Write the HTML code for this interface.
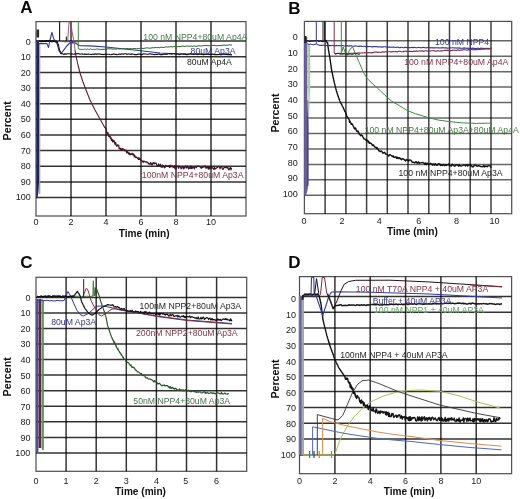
<!DOCTYPE html>
<html><head><meta charset="utf-8"><style>
html,body{margin:0;padding:0;background:#fff;}
body{width:520px;height:499px;overflow:hidden;font-family:"Liberation Sans",sans-serif;}
svg{display:block;will-change:transform;filter:blur(0.3px);}
</style></head><body>
<svg width="520" height="499" viewBox="0 0 520 499">
<rect width="520" height="499" fill="#fff"/>
<text x="20.2" y="13.3" font-size="17" fill="#0a0a0a" text-anchor="start" font-weight="bold" font-family="Liberation Sans, sans-serif" >A</text>
<line x1="71" y1="21.6" x2="71" y2="216" stroke="#000" stroke-width="1.5" stroke-opacity="0.8"/>
<line x1="106" y1="21.6" x2="106" y2="216" stroke="#000" stroke-width="1.5" stroke-opacity="0.8"/>
<line x1="141" y1="21.6" x2="141" y2="216" stroke="#000" stroke-width="1.5" stroke-opacity="0.8"/>
<line x1="176" y1="21.6" x2="176" y2="216" stroke="#000" stroke-width="1.5" stroke-opacity="0.8"/>
<line x1="211" y1="21.6" x2="211" y2="216" stroke="#000" stroke-width="1.5" stroke-opacity="0.8"/>
<line x1="36" y1="41.1" x2="246" y2="41.1" stroke="#000" stroke-width="1.5" stroke-opacity="0.8"/>
<line x1="36" y1="56.7" x2="246" y2="56.7" stroke="#000" stroke-width="1.5" stroke-opacity="0.8"/>
<line x1="36" y1="72.4" x2="246" y2="72.4" stroke="#000" stroke-width="1.5" stroke-opacity="0.8"/>
<line x1="36" y1="88" x2="246" y2="88" stroke="#000" stroke-width="1.5" stroke-opacity="0.8"/>
<line x1="36" y1="103.7" x2="246" y2="103.7" stroke="#000" stroke-width="1.5" stroke-opacity="0.8"/>
<line x1="36" y1="119.3" x2="246" y2="119.3" stroke="#000" stroke-width="1.5" stroke-opacity="0.8"/>
<line x1="36" y1="134.9" x2="246" y2="134.9" stroke="#000" stroke-width="1.5" stroke-opacity="0.8"/>
<line x1="36" y1="150.6" x2="246" y2="150.6" stroke="#000" stroke-width="1.5" stroke-opacity="0.8"/>
<line x1="36" y1="166.2" x2="246" y2="166.2" stroke="#000" stroke-width="1.5" stroke-opacity="0.8"/>
<line x1="36" y1="181.9" x2="246" y2="181.9" stroke="#000" stroke-width="1.5" stroke-opacity="0.8"/>
<line x1="36" y1="197.5" x2="246" y2="197.5" stroke="#000" stroke-width="1.5" stroke-opacity="0.8"/>
<rect x="36" y="21.6" width="210" height="194.4" fill="none" stroke="#000" stroke-opacity="0.68" stroke-width="1.25"/>
<text x="30.8" y="44.5" font-size="9" fill="#1a1a1a" text-anchor="end" font-weight="normal" font-family="Liberation Sans, sans-serif" >0</text>
<text x="30.8" y="60.1" font-size="9" fill="#1a1a1a" text-anchor="end" font-weight="normal" font-family="Liberation Sans, sans-serif" >10</text>
<text x="30.8" y="75.7" font-size="9" fill="#1a1a1a" text-anchor="end" font-weight="normal" font-family="Liberation Sans, sans-serif" >20</text>
<text x="30.8" y="91.2" font-size="9" fill="#1a1a1a" text-anchor="end" font-weight="normal" font-family="Liberation Sans, sans-serif" >30</text>
<text x="30.8" y="106.8" font-size="9" fill="#1a1a1a" text-anchor="end" font-weight="normal" font-family="Liberation Sans, sans-serif" >40</text>
<text x="30.8" y="122.4" font-size="9" fill="#1a1a1a" text-anchor="end" font-weight="normal" font-family="Liberation Sans, sans-serif" >50</text>
<text x="30.8" y="138" font-size="9" fill="#1a1a1a" text-anchor="end" font-weight="normal" font-family="Liberation Sans, sans-serif" >60</text>
<text x="30.8" y="153.6" font-size="9" fill="#1a1a1a" text-anchor="end" font-weight="normal" font-family="Liberation Sans, sans-serif" >70</text>
<text x="30.8" y="169.1" font-size="9" fill="#1a1a1a" text-anchor="end" font-weight="normal" font-family="Liberation Sans, sans-serif" >80</text>
<text x="30.8" y="184.7" font-size="9" fill="#1a1a1a" text-anchor="end" font-weight="normal" font-family="Liberation Sans, sans-serif" >90</text>
<text x="30.8" y="200.3" font-size="9" fill="#1a1a1a" text-anchor="end" font-weight="normal" font-family="Liberation Sans, sans-serif" >100</text>
<text x="36" y="225" font-size="9" fill="#1a1a1a" text-anchor="middle" font-weight="normal" font-family="Liberation Sans, sans-serif" >0</text>
<text x="71" y="225" font-size="9" fill="#1a1a1a" text-anchor="middle" font-weight="normal" font-family="Liberation Sans, sans-serif" >2</text>
<text x="106" y="225" font-size="9" fill="#1a1a1a" text-anchor="middle" font-weight="normal" font-family="Liberation Sans, sans-serif" >4</text>
<text x="141" y="225" font-size="9" fill="#1a1a1a" text-anchor="middle" font-weight="normal" font-family="Liberation Sans, sans-serif" >6</text>
<text x="176" y="225" font-size="9" fill="#1a1a1a" text-anchor="middle" font-weight="normal" font-family="Liberation Sans, sans-serif" >8</text>
<text x="211" y="225" font-size="9" fill="#1a1a1a" text-anchor="middle" font-weight="normal" font-family="Liberation Sans, sans-serif" >10</text>
<text x="118.8" y="236.5" font-size="10.1" fill="#111" text-anchor="start" font-weight="bold" font-family="Liberation Sans, sans-serif" >Time (min)</text>
<text x="0" y="0" font-size="10.7" font-weight="bold" fill="#111" text-anchor="middle" font-family="Liberation Sans, sans-serif" transform="translate(11,120.8) rotate(-90)">Percent</text>
<path d="M36.3,40.5 L39.1,40.5 L39.1,178 Q39,190 37.6,197.5 L36.3,197.5 Z" fill="#22225a"/>
<rect x="39.1" y="44" width="1.2" height="150" fill="#a0a090"/>
<rect x="36.5" y="29.5" width="2.6" height="8" fill="#2a2a2a"/>
<polyline points="39,43.6 47,43.6 48.5,47.5 50,40 51.9,32.3 53.8,39 55.2,40.7 57.2,44 59,50.8 61,53.7 63.9,49.8 66.8,46 69.7,43 72.5,42.6 75.4,43 78.3,45 80.2,45.6 90,45.9 106,47 141,50.8 160,53 175,53.8 232,54.7" fill="none" stroke="#34349a" stroke-width="1.1" stroke-linejoin="round"/>
<polyline points="39,41.1 40,41 41,41.5 42,40.9 43,41.3 44,41.2 45,40.9 46,41.3 47,40.8 48,41.2 49,40.9 50,40.9 51,41.2 52,41.6 53,40.9 54,41 55,41.4 56,41.7 57,41.4" fill="none" stroke="#111" stroke-width="1.8" stroke-linejoin="round"/>
<polyline points="57,41.3 57.5,42.5 58,43.8 58.5,45 58.7,46 58.9,47 59.1,48 59.3,49 59.5,50 60,51.1 60.5,52.3 61,53.4 62,53.7 63,53.9 64,54.5 65,53.6 66,54.4 67,53.8 68,53.7 69,53.7 70,53.8 71,54.4 72,53.7 73,54.1 74,54.2 75,53.9 76,54.1 77,53.6 78,53.6 79,53.8 80,54.3 81,54 82,53.9 83,54.2 84,54.1 85,53.9 86,54.4 87,54.3 88,53.9 89,54.2 90,54.2 91,54.5 92,54.4 93,54 94,54.6 95,53.8 96,54.1 97,54.4 98,53.8 99,54.2 100,53.7 101,54.4 102,54.5 103,54.3 104,54.6 105,54 106,54.4 107,54.3 108,54.3 109,54.2 110,54.5 111,54.7 112,54.2 113,54.4 114,53.8 115,54.4 116,54.4 117,54.7 118,54.5 119,54 120,54.1 121,54.4 122,53.7 123,54.2 124,53.9 125,53.8 126,53.8 127,54.5 128,53.9 129,54 130,54.1 131,54.6 132,53.8 133,54.2 134,54.3 135,54.6 136,54.5 137,54.6 138,54 139,54.1 140,54.1 141,54.6 142,54.7 143,53.9 144,53.9 145,54 146,54 147,54.2 148,54.3 149,54 150,53.7 151,54.2 152,54.1 153,54.3 154,54.7 155,54.4 156,54.3 157,54.4 158,54.4 159,53.8 160,54.6 161,54.5 162,54.6 163,54.5 164,54.1 165,54.1 166,53.9 167,54.4 168,53.8 169,53.8 170,54 171,53.9 172,54.1 173,53.8 174,53.8 175,53.9 176,53.9 177,54.1 178,53.8 179,54.6 180,54.4 181,53.9 182,54 183,54.1 184,54.1 185,53.9 186,54.6 187,54.8 188,54.2 189,54.3 190,53.9 191,53.9 192,54.1 193,54 194,54.6 195,53.9 196,53.8 197,54.7 198,54.3 199,53.9 200,54.3 201,53.8 202,54.3 203,54.8 204,54.6 205,54.5 206,54 207,54.1 208,53.9 209,54.6 210,54.3 211,54.6 212,54.1 213,54 214,54.6 215,54.8 216,54.6 217,54.6 218,54.6 219,54.5 220,54 221,54.3 222,54.1 223,53.8 224,53.8 225,54.1 226,54.1 227,54.5 228,54.8 229,54.2 230,54.7 231,54.8 232,54.8" fill="none" stroke="#111" stroke-width="1.1" stroke-linejoin="round"/>
<line x1="59.6" y1="21.6" x2="59.6" y2="41" stroke="#111" stroke-width="1.1"/>
<line x1="66.3" y1="36.5" x2="66.3" y2="41" stroke="#111" stroke-width="1"/>
<polyline points="67.7,40 68.6,28 69.2,22 70.8,22 72,31.5 73.5,39.2 74.5,45 75,50" fill="none" stroke="#9a4468" stroke-width="0.9" stroke-linejoin="round"/>
<polyline points="75,50 76,56 78,65 80,73 83,82 86,90 90,100 95,110 100,119 105,128" fill="none" stroke="#5a1f35" stroke-width="1.1" stroke-linejoin="round"/>
<polyline points="105,127.5 105.3,127.6 105.5,128.2 105.8,128.6 106.1,129.2 106.4,131.1 106.6,132.6 106.9,133 107.2,132.3 107.5,133.4 107.7,134.5 108,132.6 108.4,135 108.7,136.4 109.1,136.5 109.4,136.9 109.8,136.4 110.1,135.9 110.5,138.5 110.9,137.4 111.2,139.5 111.6,140.6 111.9,139.1 112.3,139.7 112.6,142 113,141.8 113.4,140.3 113.9,140.6 114.3,141.1 114.8,144.1 115.2,144.2 115.6,142.4 116.1,145.2 116.5,146.1 116.9,145.5 117.4,144.9 117.8,146 118.2,145 118.7,145 119.1,148.7 119.6,148.1 120,148.1 120.5,149.8 121.1,148.4 121.6,150.1 122.1,150.3 122.6,148.5 123.2,148.9 123.7,149.3 124.2,149.4 124.7,150.9 125.3,150.1 125.8,150.9 126.3,150.2 126.8,153.2 127.4,151.6 127.9,152.2 128.4,152.9 128.9,154.3 129.5,152.9 130,154.9 130.5,153.8 131,154.2 131.6,154.5 132.1,153.1 132.6,154.9 133.1,154.3 133.7,154 134.2,157 134.7,155.2 135.2,156.5 135.8,157.7 136.3,157.5 136.8,157 137.3,158 137.8,158.4 138.4,159.5 138.9,157.5 139.4,159.4 139.9,158.6 140.5,159 141,161 141.5,160.4 142.1,160.8 142.7,161.6 143.2,162.3 143.8,160.9 144.4,161.7 144.9,161.5 145.5,161.7 146.1,162.5 146.7,161.8 147.2,162.3 147.8,162.3 148.4,164 149,163.4 149.6,164.1 150.1,164.5 150.7,162.4 151.3,163.6 151.8,165.1 152.4,164.9 153,162.7 153.6,162.7 154.2,163.9 154.8,162.8 155.4,163.5 156.1,163.1 156.7,165.2 157.3,165.7 157.9,166.2 158.5,163.8 159.1,165.8 159.7,165.8 160.3,164.1 160.9,166.8 161.5,167.2 162.2,164.8 162.8,167.4 163.4,165.6 164,166 164.6,167.9 165.2,167.4 165.8,165.2 166.4,166.1 167,166.5 167.7,165.9 168.3,165.5 168.9,166 169.5,167.4 170.1,165.1 170.7,167 171.3,166.6 171.9,165.3 172.5,166.4 173.1,167.4 173.8,167.1 174.4,165.6 175,168.8 175.6,168.2 176.2,168.9 176.8,166 177.4,166.5 178,165.8 178.6,168.3 179.2,166.5 179.8,166.1 180.5,167.1 181.1,168.7 181.7,168.4 182.3,166.5 182.9,166.2 183.5,168.8 184.1,167.6 184.7,168.1 185.3,166 185.9,165.9 186.5,168 187.1,167.1 187.8,165.9 188.4,168.9 189,167.9 189.6,168.4 190.2,166 190.8,168.6 191.4,166 192,168.7 192.6,167.3 193.2,166.9 193.8,167.6 194.4,168.9 195,166.7 195.7,166.2 196.3,167.6 196.9,166.6 197.5,166.2 198.1,166.3 198.7,166 199.3,166.5 199.9,166.9 200.5,166.9 201.1,168.4 201.7,166.8 202.3,167.6 202.9,166.5 203.6,167.1 204.2,166 204.8,166.8 205.4,166 206,168.4 206.6,167.8 207.2,166.6 207.8,167.6 208.4,169.2 209,166.4 209.6,168.8 210.2,167.5 210.9,167.7 211.5,168.9 212.1,167.4 212.7,167.8 213.3,168.4 213.9,169.5 214.5,167.3 215.1,169 215.7,168.6 216.3,168.3 216.9,167.6 217.5,167.4 218.1,166.4 218.8,166.7 219.4,166.5 220,168.8 220.6,167.1 221.2,166.8 221.8,166.6 222.4,169.2 223,169.3 223.6,168.6 224.2,167.3 224.9,167.2 225.5,167.4 226.1,167.9 226.7,166.9 227.3,167.9 227.9,167.3 228.5,169.7 229.1,169.8 229.8,168.3 230.4,167.3 231,169.8 231.6,167.6" fill="none" stroke="#3d1526" stroke-width="1.2" stroke-linejoin="round"/>
<polyline points="62,41.7 63,41.4 64,41.7 65,41.8 66,41.8 67,41.6 68,41.8 69,41.4 70,41.6 71,41.5 72,41.7 73,41.4 74,41.4 75,41.6 76,41.6 77,41.9 78,41.8" fill="none" stroke="#3a5a2a" stroke-width="0.9" stroke-linejoin="round"/>
<line x1="78.3" y1="21.6" x2="78.3" y2="48.8" stroke="#3f8a3f" stroke-width="1"/>
<polyline points="78.3,48.8 80.2,49.4 81.2,49.3 82.3,49.4 83.3,49.5 84.4,49.1 85.4,49.1 86.5,49.5 87.5,49 88.5,49.4 89.6,49.3 90.6,48.9 91.7,49.4 92.7,49.5 93.7,49.3 94.8,49.4 95.8,49.4 96.9,48.9 97.9,49.2 99,49.2 100,49.4 101,49.4 102,49.4 103,49.2 104,49.4 105,49.2 106,49.2 107,48.9 108,48.7 109,48.8 110,48.9 111,48.7 112,49.2 113,49 114,49.1 115,49 116,49.1 117,48.9 118,48.5 119,49.1 120,49 121,48.8 122,48.8 123,48.9 124,48.5 125,48.9 126,48.6 127,48.4 128,48.6 129,48.9 130,48.5 131,48.8 132,49 133,48.6 134,48.5 135,48.6 136,48.7 137,48.8 138,48.6 139,48.6 140,48.2 141,48.3 142,48.3 143,48.6 144,48.2 145,48.3 146,47.9 147,47.9 148,47.9 149,48.2 150,48.1 151,48.1 152,47.7 153,47.8 154,47.7 155,47.7 156,47.4 157,47.9 158,47.3 159,47.8 160,47.7 161,47 162,47.3 163,47.5 164,47.5 165,47.1 166,46.9 167,46.8 168,47.3 169,46.7 170,46.9 171,46.6 172,46.8 173,47 174,46.4 175,46.8 176,46.6 177,46.8 178,46.7 179,46.3 180,46.7 181,46.4 182,46.1 183,46 184,46.3 185,46.3 186,46.2 187,46 188,46.1 189,46.1 190,46.4 191,45.8 192,46.3 193,46.3 194,45.8 195,46.3 196,46.2 197,46.3 198,45.8 199,45.8 200,45.8 201,46.2 202,45.9 203,45.7 204,45.7 205,45.6 206,45.4 207,45.4 208,45.9 209,45.5 210,45.9 211,45.4 212,45.4 213,45.5 214,45.3 215,45.4 216,45.8 217,45.7 218,45.6 219,45.5 220,45.6 221,45.6 222,45.3 223,45.4 224,44.9 225,45.4 226,45.1 227,45.3 228,45.2 229,44.9 230,44.7 231,45.3 232,44.7" fill="none" stroke="#2f6a2f" stroke-width="1.0" stroke-linejoin="round"/>
<text x="143.3" y="39.5" font-size="8.7" fill="#4a7a4a" text-anchor="start" font-weight="normal" font-family="Liberation Sans, sans-serif" >100 nM NPP4+80uM Ap4A</text>
<text x="190.6" y="53.9" font-size="8.7" fill="#363688" text-anchor="start" font-weight="normal" font-family="Liberation Sans, sans-serif" >80uM Ap3A</text>
<text x="187" y="65" font-size="8.7" fill="#262626" text-anchor="start" font-weight="normal" font-family="Liberation Sans, sans-serif" >80uM Ap4A</text>
<text x="141.8" y="178.3" font-size="8.7" fill="#7e3446" text-anchor="start" font-weight="normal" font-family="Liberation Sans, sans-serif" >100nM NPP4+80uM Ap3A</text>
<text x="288.3" y="13.5" font-size="17" fill="#0a0a0a" text-anchor="start" font-weight="bold" font-family="Liberation Sans, sans-serif" >B</text>
<line x1="325.1" y1="21.4" x2="325.1" y2="213.7" stroke="#000" stroke-width="1.5" stroke-opacity="0.75"/>
<line x1="345.9" y1="21.4" x2="345.9" y2="213.7" stroke="#000" stroke-width="1.5" stroke-opacity="0.75"/>
<line x1="366.6" y1="21.4" x2="366.6" y2="213.7" stroke="#000" stroke-width="1.5" stroke-opacity="0.75"/>
<line x1="387.3" y1="21.4" x2="387.3" y2="213.7" stroke="#000" stroke-width="1.5" stroke-opacity="0.75"/>
<line x1="408" y1="21.4" x2="408" y2="213.7" stroke="#000" stroke-width="1.5" stroke-opacity="0.75"/>
<line x1="428.8" y1="21.4" x2="428.8" y2="213.7" stroke="#000" stroke-width="1.5" stroke-opacity="0.75"/>
<line x1="449.5" y1="21.4" x2="449.5" y2="213.7" stroke="#000" stroke-width="1.5" stroke-opacity="0.75"/>
<line x1="470.2" y1="21.4" x2="470.2" y2="213.7" stroke="#000" stroke-width="1.5" stroke-opacity="0.75"/>
<line x1="491" y1="21.4" x2="491" y2="213.7" stroke="#000" stroke-width="1.5" stroke-opacity="0.75"/>
<line x1="304.4" y1="40.8" x2="511.7" y2="40.8" stroke="#000" stroke-width="1.5" stroke-opacity="0.6"/>
<line x1="304.4" y1="56.2" x2="511.7" y2="56.2" stroke="#000" stroke-width="1.5" stroke-opacity="0.6"/>
<line x1="304.4" y1="71.7" x2="511.7" y2="71.7" stroke="#000" stroke-width="1.5" stroke-opacity="0.6"/>
<line x1="304.4" y1="87.1" x2="511.7" y2="87.1" stroke="#000" stroke-width="1.5" stroke-opacity="0.6"/>
<line x1="304.4" y1="102.6" x2="511.7" y2="102.6" stroke="#000" stroke-width="1.5" stroke-opacity="0.6"/>
<line x1="304.4" y1="118" x2="511.7" y2="118" stroke="#000" stroke-width="1.5" stroke-opacity="0.6"/>
<line x1="304.4" y1="133.5" x2="511.7" y2="133.5" stroke="#000" stroke-width="1.5" stroke-opacity="0.6"/>
<line x1="304.4" y1="148.9" x2="511.7" y2="148.9" stroke="#000" stroke-width="1.5" stroke-opacity="0.6"/>
<line x1="304.4" y1="164.4" x2="511.7" y2="164.4" stroke="#000" stroke-width="1.5" stroke-opacity="0.6"/>
<line x1="304.4" y1="179.8" x2="511.7" y2="179.8" stroke="#000" stroke-width="1.5" stroke-opacity="0.6"/>
<line x1="304.4" y1="195.3" x2="511.7" y2="195.3" stroke="#000" stroke-width="1.5" stroke-opacity="0.6"/>
<rect x="304.4" y="21.4" width="207.3" height="192.3" fill="none" stroke="#000" stroke-opacity="0.68" stroke-width="1.25"/>
<text x="297.7" y="40.2" font-size="9" fill="#1a1a1a" text-anchor="end" font-weight="normal" font-family="Liberation Sans, sans-serif" >0</text>
<text x="297.7" y="55.9" font-size="9" fill="#1a1a1a" text-anchor="end" font-weight="normal" font-family="Liberation Sans, sans-serif" >10</text>
<text x="297.7" y="71.6" font-size="9" fill="#1a1a1a" text-anchor="end" font-weight="normal" font-family="Liberation Sans, sans-serif" >20</text>
<text x="297.7" y="87.2" font-size="9" fill="#1a1a1a" text-anchor="end" font-weight="normal" font-family="Liberation Sans, sans-serif" >30</text>
<text x="297.7" y="102.9" font-size="9" fill="#1a1a1a" text-anchor="end" font-weight="normal" font-family="Liberation Sans, sans-serif" >40</text>
<text x="297.7" y="118.6" font-size="9" fill="#1a1a1a" text-anchor="end" font-weight="normal" font-family="Liberation Sans, sans-serif" >50</text>
<text x="297.7" y="134.3" font-size="9" fill="#1a1a1a" text-anchor="end" font-weight="normal" font-family="Liberation Sans, sans-serif" >60</text>
<text x="297.7" y="150" font-size="9" fill="#1a1a1a" text-anchor="end" font-weight="normal" font-family="Liberation Sans, sans-serif" >70</text>
<text x="297.7" y="165.6" font-size="9" fill="#1a1a1a" text-anchor="end" font-weight="normal" font-family="Liberation Sans, sans-serif" >80</text>
<text x="297.7" y="181.3" font-size="9" fill="#1a1a1a" text-anchor="end" font-weight="normal" font-family="Liberation Sans, sans-serif" >90</text>
<text x="297.7" y="197" font-size="9" fill="#1a1a1a" text-anchor="end" font-weight="normal" font-family="Liberation Sans, sans-serif" >100</text>
<text x="304.1" y="224" font-size="9" fill="#1a1a1a" text-anchor="middle" font-weight="normal" font-family="Liberation Sans, sans-serif" >0</text>
<text x="342.1" y="224" font-size="9" fill="#1a1a1a" text-anchor="middle" font-weight="normal" font-family="Liberation Sans, sans-serif" >2</text>
<text x="379.3" y="224" font-size="9" fill="#1a1a1a" text-anchor="middle" font-weight="normal" font-family="Liberation Sans, sans-serif" >4</text>
<text x="418.8" y="224" font-size="9" fill="#1a1a1a" text-anchor="middle" font-weight="normal" font-family="Liberation Sans, sans-serif" >6</text>
<text x="456.5" y="224" font-size="9" fill="#1a1a1a" text-anchor="middle" font-weight="normal" font-family="Liberation Sans, sans-serif" >8</text>
<text x="494.4" y="224" font-size="9" fill="#1a1a1a" text-anchor="middle" font-weight="normal" font-family="Liberation Sans, sans-serif" >10</text>
<text x="387" y="234.6" font-size="10.1" fill="#111" text-anchor="start" font-weight="bold" font-family="Liberation Sans, sans-serif" >Time (min)</text>
<text x="0" y="0" font-size="10.7" font-weight="bold" fill="#111" text-anchor="middle" font-family="Liberation Sans, sans-serif" transform="translate(279.3,113) rotate(-90)">Percent</text>
<defs><linearGradient id="gB" x1="0" y1="0" x2="0" y2="1"><stop offset="0" stop-color="#a9c79a"/><stop offset="0.6" stop-color="#b5cfa6"/><stop offset="1" stop-color="#b5cfa6" stop-opacity="0"/></linearGradient></defs>
<path d="M304.2,37 L307.2,37 L307.2,100 L308.4,125 L308.4,180 Q308.2,190 306,195.5 L304.2,195.5 Z" fill="#6a5e9c"/>
<line x1="307.9" y1="100" x2="307.9" y2="186" stroke="#3a3a4a" stroke-width="1.0"/>
<rect x="307.4" y="45" width="2.8" height="75" fill="url(#gB)"/>
<rect x="304.3" y="36" width="2.2" height="7" fill="#222"/>
<polyline points="306,41 307,40.8 308,40.7 309,41.3 310,41.7 311,40.7 312,41.2 313,40.7 314,41.1 315,40.9 316,40.5 317,40.5 318,40.6 319,41.6 320,41 321,40.6 322,41.6 323,41.7 324,40.9 325,40.5 326,40.6 327,40.4" fill="none" stroke="#1a1a1a" stroke-width="1.2" stroke-linejoin="round"/>
<line x1="323" y1="21.4" x2="323" y2="41" stroke="#1a1a1a" stroke-width="1"/>
<line x1="324.6" y1="21.4" x2="324.6" y2="41" stroke="#1a1a1a" stroke-width="1"/>
<polyline points="325.5,41 326.2,41.6 326.9,42.2 327.6,42.8 327.7,43.5 327.8,44.2 327.9,44.9 328,45.6 328,46.4 328.1,47.1 328.2,47.8 328.3,48.5 328.4,49.2 328.5,49.9 328.6,50.7 328.8,51.4 328.9,52.2 329,52.9 329.1,53.6 329.3,54.4 329.4,55.1 329.5,55.8 329.6,56.6 329.8,57.3 329.9,58.1 330,58.8 330.1,59.5 330.2,60.2 330.3,60.9 330.4,61.6 330.5,62.3 330.6,63 330.7,63.7 330.8,64.4 330.9,65.1 331,65.8 331.1,66.5 331.2,67.2 331.3,67.9 331.4,68.6 331.5,69.3 331.6,70 331.8,70.7 331.9,71.4 332.1,72.1 332.2,72.8 332.4,73.5 332.5,74.2 332.7,74.9 332.8,75.7 332.9,76.4 333.1,77.1 333.2,77.8 333.4,78.5 333.6,79.2 333.7,79.9 333.9,80.6 334,81.3 334.2,82 334.3,82.7 334.5,83.4 334.7,84 334.9,84.7 335,85.4 335.2,86.1 335.4,86.8 335.5,87.5 335.7,88.2 335.9,88.8 336.1,89.5 336.2,90.2 336.4,90.9 336.6,91.6 336.9,92.3 337.1,93 337.3,93.6 337.5,94.3 337.8,95 338,95.7 338.2,96.4 338.5,97.1 338.7,97.8 338.9,98.4 339.1,99.1 339.4,99.8 339.6,100.5 339.9,101.1 340.3,101.8 340.6,102.4 340.9,103.1 341.2,103.7 341.6,104.4 341.9,105 342.2,105.7 342.5,106.3 342.9,107 343.2,107.6 343.5,108.3 343.8,108.9 344.1,109.6 344.4,110.2 344.7,110.9 344.9,111.5 345.2,111.9 345.5,112 345.8,113 346.1,113.7 346.4,114.9 346.7,116.2 347,116.6 347.4,116.6 347.7,117.2 348,118.1 348.3,118.5 348.6,119 349,119.1 349.3,120.2 349.6,122.2 350,121.1 350.5,122.5 350.9,123.3 351.3,124.4 351.8,123.6 352.2,124.3 352.7,124.9 353.1,125.8 353.5,126.4 354,128 354.4,128.4 354.9,129 355.4,127.9 355.8,128.4 356.3,130.4 356.8,131.3 357.3,131 357.8,131.8 358.2,131.2 358.7,132.5 359.2,134.2 359.7,134.5 360.3,135.1 360.8,135.8 361.3,134.9 361.9,135.2 362.4,135.8 362.9,137.1 363.5,137.9 364,139 364.6,139 365.2,139.4 365.8,140.1 366.4,140 367,140.7 367.6,140.2 368.2,142.2 368.8,141.6 369.3,143.4 369.9,143.3 370.4,143 371,143.1 371.5,143.8 372.1,145 372.6,145.6 373.2,144.9 373.7,145.2 374.3,146.6 374.8,147.1 375.4,147.2 376,147.3 376.6,148.5 377.1,147.7 377.7,148.8 378.3,149.5 378.9,150.9 379.4,150.8 380,151.7 380.7,151.2 381.3,151 382,151.4 382.7,153.2 383.3,153 384,152.5 384.7,152.3 385.3,153.6 386,154.2 386.7,154.1 387.3,154.1 388,155.2 388.7,156 389.5,154.8 390.2,154.6 390.9,155.4 391.6,155.8 392.4,156.6 393.1,155.8 393.8,157.2 394.5,157.3 395.3,157.1 396,156.7 396.7,158.4 397.4,157.3 398,158.5 398.7,157.6 399.4,157.7 400.1,159 400.7,158.3 401.4,159.8 402.1,159.1 402.8,158.7 403.4,158.9 404.1,159.5 404.8,160.2 405.6,160.9 406.3,159.4 407,160.1 407.7,159.9 408.5,161.5 409.2,160 409.9,160 410.6,160.1 411.4,160.9 412.1,162.1 412.8,162.2 413.5,162.1 414.3,162.8 415,162.8 415.7,161.8 416.4,161.7 417.1,163.3 417.8,163.1 418.6,161.8 419.3,163.3 420,162.9 420.7,162.9 421.4,162.9 422.1,162.6 422.8,162.4 423.5,163 424.2,163.2 424.9,164.5 425.6,162.9 426.3,164.6 427,163.2 427.7,163.6 428.4,164.6 429.1,164.6 429.8,163.9 430.5,163.2 431.2,164.1 431.9,164 432.6,165.2 433.3,163.8 434,164.2 434.7,165.3 435.4,163.7 436.1,164.4 436.8,165.3 437.5,165.2 438.2,163.8 438.9,163.8 439.6,163.9 440.3,165.6 441,164.3 441.7,165.3 442.4,165.6 443.1,164.5 443.8,164.4 444.5,165.8 445.2,165.2 445.9,164.5 446.6,165.4 447.3,164.6 448,164.6 448.7,164 449.4,165.6 450.1,165.9 450.8,165.4 451.5,166 452.2,164.2 452.9,164.6 453.6,165.1 454.3,166.1 455,166.1 455.7,165 456.4,164.7 457.1,165.1 457.8,165.2 458.5,166.1 459.2,164.6 459.9,165.9 460.6,165.8 461.3,166 462,165.9 462.7,165.5 463.4,165 464.1,165 464.8,165.1 465.5,166 466.2,164.6 466.9,164.8 467.7,166 468.4,165 469.1,164.7 469.8,164.7 470.6,165.7 471.3,165.3 472,166.7 472.8,166.5 473.5,166.8 474.2,165.3 474.9,165 475.7,165.1 476.4,165.9 477.1,166.4 477.9,165.9 478.6,165.5 479.3,165.9 480,166.4 480.8,166.5 481.5,166.7 482.2,166.9 482.9,166.6 483.6,165.5 484.4,167 485.1,165.9 485.8,166.5 486.5,166.1 487.2,166.8 487.9,165.8 488.6,165.9 489.4,165.9 490.1,165.8 490.8,167.2 491.5,166.7" fill="none" stroke="#111" stroke-width="1.4" stroke-linejoin="round"/>
<polyline points="307,43.8 308,44 309,44.6 310,44.2 311,44 312,44.6 313,44.5 314,44.9 315,44 316,44.5" fill="none" stroke="#34349a" stroke-width="1" stroke-linejoin="round"/>
<line x1="316.3" y1="21.4" x2="316.3" y2="44" stroke="#34349a" stroke-width="1"/>
<polyline points="316.5,44.5 317.7,44.7 318.8,45 320,45.4 321,45.4 322,45.5 323,45 324,45.2 325,45.1 326,45.2 327,45.7 328,45.5 329,45.7 330,45.4 331,45.7 332,45.5 333,45.4 334,45.8 335,45.9 336,45.4 337,45.7 338,45.8 339,45.6 340,45.7 341,45.6 342,45.6 343,45.7 344,45.9 345,46 346,45.7 347,45.6 348,45.9 349,46.1 350,45.8 351,45.9 352,45.9 353,46.3 354,46.2 355,45.9 356,46 357,46.2 358,46.3 359,46.4 360,46.1 361,46.1 362,46.5 363,46.3 364,46.3 365,46.3 366,46.7 367,46.4 368,46.6 369,46.5 370,46.5 371,46.8 372,46.9 373,46.6 374,46.5 375,46.8 376,46.6 377,46.5 378,47 379,46.8 380,47 381,46.8 382,47.1 383,46.9 384,46.8 385,46.7 386,47 387,47.1 388,47.3 389,46.9 390,47.2 391,47.1 392,47.2 393,47 394,47.1 395,47.3 396,47.5 397,47.1 398,47.3 399,47.6 400,47.7 401,47.2 402,47.2 403,47.7 404,47.7 405,47.4 406,47.2 407,47.7 408,47.4 409,47.8 410,47.6 411,47.7 412,47.3 413,47.7 414,47.4 415,47.5 416,47.8 417,47.8 418,47.4 419,47.5 420,47.6 421,47.7 422,47.6 423,47.4 424,47.5 425,47.8 426,47.9 427,47.4 428,47.8 429,47.9 430,47.5 431,48 432,47.6 433,47.9 434,47.8 435,47.9 436,47.7 437,47.8 438,47.9 439,47.8 440,48 441,47.9 442,47.9 443,47.6 444,48 445,47.9 446,47.8 447,48.1 448,48.1 449,48 450,47.8 451,48 452,47.8 453,47.8 454,48 455,47.8 456,48 457,48.1 458,47.8 459,48.2 460,47.9 461,48.3 462,48.3 463,48.2 464,47.9 465,48.2 466,48.1 467,48.5 468,48 469,48.4 470,48.5 471,48.4 472,48.4 473,48.1 474,48.6 475,48.3 476,48.6 477,48.6 478,48.1 479,48.5 480,48.6 481,48.1 482,48.3 483,48.5 484,48.2 485,48.7 486,48.3 487,48.6 488,48.2 489,48.5 490,48.7 491,48.3 492,48.4" fill="none" stroke="#34349a" stroke-width="1.1" stroke-linejoin="round"/>
<line x1="334.2" y1="21.4" x2="334.2" y2="53" stroke="#8c2b3f" stroke-width="1"/>
<polyline points="334.2,53 335,53.6 336,53.6 337,53.5 338,53.2 339,53.3 340,53.3 341,53.8 342,53.7 343,53.8 344,53.3 345,53.7 346,53.2 347,53.4 348,53.5 349,53.3 350,53.6 351,53.3 352,53.3 353,53.5 354,52.9 355,53.5 356,53.2 357,53 358,53.2 359,52.8 360,53.3 361,53 362,52.8 363,53 364,52.8 365,52.5 366,52.9 367,52.4 368,52.9 369,52.5 370,52.7 371,52.9 372,52.6 373,52.6 374,52.3 375,52.1 376,52 377,52.1 378,52.4 379,52.2 380,52.2 381,52.5 382,51.9 383,51.9 384,52.2 385,51.7 386,51.7 387,51.9 388,51.7 389,51.8 390,51.7 391,51.9 392,51.9 393,51.5 394,51.8 395,51.7 396,51.4 397,51.9 398,51.4 399,51.3 400,51.2 401,51.6 402,51.7 403,51.6 404,51.4 405,51.2 406,51.1 407,51.5 408,51.4 409,51.2 410,51.4 411,51.3 412,51.6 413,51.4 414,51.1 415,51.5 416,50.9 417,51.2 418,51.1 419,51 420,50.8 421,51.3 422,50.8 423,51.1 424,51.4 425,50.8 426,50.8 427,51.1 428,51 429,51.1 430,51.2 431,50.7 432,50.8 433,50.8 434,50.6 435,51.2 436,51.1 437,51 438,50.5 439,51.1 440,51 441,50.7 442,50.9 443,50.7 444,50.5 445,50.3 446,50.4 447,50.2 448,50.4 449,50.6 450,50.6 451,50.6 452,50.5 453,50.1 454,50.3 455,50.2 456,50.4 457,50.2 458,49.9 459,50.2 460,50.4 461,49.8 462,50.2 463,49.6 464,49.7 465,49.7 466,50 467,50.1 468,49.9 469,49.6 470,49.9 471,49.5 472,49.4 473,49.8 474,49.6 475,49.6 476,49.5 477,49.7 478,49.3 479,49.5 480,49.4 481,49.5 482,49.1 483,49.3 484,49.2 485,48.9 486,48.8 487,49.1 488,48.7 489,49.2 490,48.6 491,48.5 492,48.5" fill="none" stroke="#8c2b3f" stroke-width="1.1" stroke-linejoin="round"/>
<line x1="341.3" y1="21.4" x2="341.3" y2="53" stroke="#3f8a3f" stroke-width="1"/>
<polyline points="341.5,53 343.2,47 345,52 347,55.5 349,51 351,48 352.8,47.2 356,55.2 359.2,62.4 363.2,72 367.2,78.5 372,83.3 378.5,88.9 384.9,95.3 391.3,100.9 399.3,105.7 407.3,110.5 415.3,113.7 428.8,117.7 438,120 448.8,121.5 461.2,122.8 476.5,123.4 490.4,123.1" fill="none" stroke="#3f8a3f" stroke-width="1.0" stroke-linejoin="round"/>
<polyline points="335,54.4 336,53.8 337,53.6 338,53.5 339,53.5 340,54.2 341,54.1 342,54.2 343,54.2 344,53.6 345,54.1 346,53.9 347,54.3 348,54.3 349,54.4 350,53.6 351,54.4 352,54.4 353,54.4 354,53.6 355,53.7 356,53.6 357,53.5 358,54.3 359,54.3 360,54.1" fill="none" stroke="#1a1a1a" stroke-width="0.8" stroke-linejoin="round"/>
<text x="435" y="44.6" font-size="8.7" fill="#363688" text-anchor="start" font-weight="normal" font-family="Liberation Sans, sans-serif" >100 nM NPP4</text>
<text x="404.2" y="65" font-size="8.7" fill="#7e3446" text-anchor="start" font-weight="normal" font-family="Liberation Sans, sans-serif" >100 nM NPP4+80uM Ap4A</text>
<text x="364.7" y="132.7" font-size="8.7" fill="#4a7a4a" text-anchor="start" font-weight="normal" font-family="Liberation Sans, sans-serif" >100 nM NPP4+80uM Ap3A+80uM Ap4A</text>
<text x="398.5" y="176.2" font-size="8.7" fill="#262626" text-anchor="start" font-weight="normal" font-family="Liberation Sans, sans-serif" >100 nM NPP4+80uM Ap3A</text>
<text x="20.3" y="268.1" font-size="17" fill="#0a0a0a" text-anchor="start" font-weight="bold" font-family="Liberation Sans, sans-serif" >C</text>
<line x1="66.1" y1="277.3" x2="66.1" y2="471.3" stroke="#000" stroke-width="1.5" stroke-opacity="0.8"/>
<line x1="96.2" y1="277.3" x2="96.2" y2="471.3" stroke="#000" stroke-width="1.5" stroke-opacity="0.8"/>
<line x1="126.3" y1="277.3" x2="126.3" y2="471.3" stroke="#000" stroke-width="1.5" stroke-opacity="0.8"/>
<line x1="156.4" y1="277.3" x2="156.4" y2="471.3" stroke="#000" stroke-width="1.5" stroke-opacity="0.8"/>
<line x1="186.5" y1="277.3" x2="186.5" y2="471.3" stroke="#000" stroke-width="1.5" stroke-opacity="0.8"/>
<line x1="216.6" y1="277.3" x2="216.6" y2="471.3" stroke="#000" stroke-width="1.5" stroke-opacity="0.8"/>
<line x1="36" y1="297.4" x2="246.7" y2="297.4" stroke="#000" stroke-width="1.5" stroke-opacity="0.8"/>
<line x1="36" y1="312.9" x2="246.7" y2="312.9" stroke="#000" stroke-width="1.5" stroke-opacity="0.8"/>
<line x1="36" y1="328.5" x2="246.7" y2="328.5" stroke="#000" stroke-width="1.5" stroke-opacity="0.8"/>
<line x1="36" y1="344" x2="246.7" y2="344" stroke="#000" stroke-width="1.5" stroke-opacity="0.8"/>
<line x1="36" y1="359.6" x2="246.7" y2="359.6" stroke="#000" stroke-width="1.5" stroke-opacity="0.8"/>
<line x1="36" y1="375.1" x2="246.7" y2="375.1" stroke="#000" stroke-width="1.5" stroke-opacity="0.8"/>
<line x1="36" y1="390.7" x2="246.7" y2="390.7" stroke="#000" stroke-width="1.5" stroke-opacity="0.8"/>
<line x1="36" y1="406.2" x2="246.7" y2="406.2" stroke="#000" stroke-width="1.5" stroke-opacity="0.8"/>
<line x1="36" y1="421.8" x2="246.7" y2="421.8" stroke="#000" stroke-width="1.5" stroke-opacity="0.8"/>
<line x1="36" y1="437.4" x2="246.7" y2="437.4" stroke="#000" stroke-width="1.5" stroke-opacity="0.8"/>
<line x1="36" y1="452.9" x2="246.7" y2="452.9" stroke="#000" stroke-width="1.5" stroke-opacity="0.8"/>
<rect x="36" y="277.3" width="210.7" height="194" fill="none" stroke="#000" stroke-opacity="0.68" stroke-width="1.25"/>
<text x="30.4" y="300.6" font-size="9" fill="#1a1a1a" text-anchor="end" font-weight="normal" font-family="Liberation Sans, sans-serif" >0</text>
<text x="30.4" y="316.2" font-size="9" fill="#1a1a1a" text-anchor="end" font-weight="normal" font-family="Liberation Sans, sans-serif" >10</text>
<text x="30.4" y="331.8" font-size="9" fill="#1a1a1a" text-anchor="end" font-weight="normal" font-family="Liberation Sans, sans-serif" >20</text>
<text x="30.4" y="347.3" font-size="9" fill="#1a1a1a" text-anchor="end" font-weight="normal" font-family="Liberation Sans, sans-serif" >30</text>
<text x="30.4" y="362.9" font-size="9" fill="#1a1a1a" text-anchor="end" font-weight="normal" font-family="Liberation Sans, sans-serif" >40</text>
<text x="30.4" y="378.5" font-size="9" fill="#1a1a1a" text-anchor="end" font-weight="normal" font-family="Liberation Sans, sans-serif" >50</text>
<text x="30.4" y="394.1" font-size="9" fill="#1a1a1a" text-anchor="end" font-weight="normal" font-family="Liberation Sans, sans-serif" >60</text>
<text x="30.4" y="409.7" font-size="9" fill="#1a1a1a" text-anchor="end" font-weight="normal" font-family="Liberation Sans, sans-serif" >70</text>
<text x="30.4" y="425.2" font-size="9" fill="#1a1a1a" text-anchor="end" font-weight="normal" font-family="Liberation Sans, sans-serif" >80</text>
<text x="30.4" y="440.8" font-size="9" fill="#1a1a1a" text-anchor="end" font-weight="normal" font-family="Liberation Sans, sans-serif" >90</text>
<text x="30.4" y="456.4" font-size="9" fill="#1a1a1a" text-anchor="end" font-weight="normal" font-family="Liberation Sans, sans-serif" >100</text>
<text x="36" y="484.2" font-size="9" fill="#1a1a1a" text-anchor="middle" font-weight="normal" font-family="Liberation Sans, sans-serif" >0</text>
<text x="66.1" y="484.2" font-size="9" fill="#1a1a1a" text-anchor="middle" font-weight="normal" font-family="Liberation Sans, sans-serif" >1</text>
<text x="96.2" y="484.2" font-size="9" fill="#1a1a1a" text-anchor="middle" font-weight="normal" font-family="Liberation Sans, sans-serif" >2</text>
<text x="126.3" y="484.2" font-size="9" fill="#1a1a1a" text-anchor="middle" font-weight="normal" font-family="Liberation Sans, sans-serif" >3</text>
<text x="156.4" y="484.2" font-size="9" fill="#1a1a1a" text-anchor="middle" font-weight="normal" font-family="Liberation Sans, sans-serif" >4</text>
<text x="185.8" y="484.2" font-size="9" fill="#1a1a1a" text-anchor="middle" font-weight="normal" font-family="Liberation Sans, sans-serif" >5</text>
<text x="216.6" y="484.2" font-size="9" fill="#1a1a1a" text-anchor="middle" font-weight="normal" font-family="Liberation Sans, sans-serif" >6</text>
<text x="115.1" y="495.2" font-size="10.1" fill="#111" text-anchor="start" font-weight="bold" font-family="Liberation Sans, sans-serif" >Time (min)</text>
<text x="0" y="0" font-size="10.7" font-weight="bold" fill="#111" text-anchor="middle" font-family="Liberation Sans, sans-serif" transform="translate(10.7,376.8) rotate(-90)">Percent</text>
<rect x="36.2" y="299" width="2.2" height="153" fill="#4a4a9a"/>
<rect x="38.6" y="299" width="2.8" height="149" fill="#5a2a40"/>
<rect x="41.6" y="299" width="1.4" height="150" fill="#c8a8b8"/>
<rect x="42.2" y="300" width="1.6" height="150" fill="#4f8f4f"/>
<polyline points="38,301 39,300.8 40,300.5 41,300.3 42,300.3 43,301 44,300.4 45,300.5 46,300.6 47,300.2 48,300.5 49,300.5 50,300.9 51,300.6 52,300.5 53,301.2 54,300.7 55,301.1 56,300.8 57,300.2 58,300.6 59,300.6 60,301 61,300.5 62,300.9 63,300.7 64,300.4" fill="none" stroke="#34349a" stroke-width="1.0" stroke-linejoin="round"/>
<polyline points="64,300.7 66,296 68,291.5 70,295 71.8,298.9 74,304 77,310.4 80.6,314.8 83.2,316 87.6,313.9 91.1,311.2 94.7,307.7 96.4,306.4 100,306 106,306.5 112,307.8 120,310 157,316 187,320 232,323.5" fill="none" stroke="#34349a" stroke-width="1.0" stroke-linejoin="round"/>
<polyline points="44,296.7 45,295.9 46,296.6 47,296 48,295.8 49,296 50,296.6 51,296.8 52,295.8 53,296.3 54,296.3 55,296.6 56,296 57,296.3 58,296.1 59,296.6 60,296.1 61,296.7 62,296.1 63,296 64,296.5 65,296.3 66,295.9 67,296.4 68,295.9 69,296.6 70,296.5 71,296.6 72,296.4 73,296.2 74,296.2 75,296.2 76,296.7 77,295.9 78,296.7 79,295.8 80,296 81,296.1 82,296.7 83,296.3 84,296.2 85,296.7 86,296 87,296.3 88,296.3 89,296.6 90,296.6 91,296.4 92,296.1 93,296.1" fill="none" stroke="#3f7f3f" stroke-width="1.0" stroke-linejoin="round"/>
<polyline points="83,296.3 84,293.6 86.3,288.3 87.6,289.2 89,293.6 91.1,300.7 93.8,306 96.4,311.2 99,314.8 101.7,316 105.2,313.9 108.8,311.2 112,309 116,308.8 157,316.5 187,320.5 232,324" fill="none" stroke="#8c2b3f" stroke-width="1.0" stroke-linejoin="round"/>
<polyline points="37,296.1 38,296.9 39,296.7 40,296.8 41,296.1 42,296.4 43,296.8 44,296.6 45,296.1 46,296.5 47,297 48,296.2 49,296.1 50,296.3 51,296.7 52,296.9 53,296.1 54,296.1 55,296.2 56,296.3 57,296.5 58,296.1 59,296.3 60,296.1 61,297.1 62,296.8 63,296 64,297.1 65,296 66,296.4 67,297.1 68,296.9 69,296.8 70,296.4 71,296.1 72,296.7 73,296 74,296.1" fill="none" stroke="#111" stroke-width="1.6" stroke-linejoin="round"/>
<polyline points="74,296.5 74.3,295.9 74.7,295.2 75,294.6 75.3,294 75.8,293.4 76.4,292.7 77,292 77.5,291.4 77.9,292 78.2,292.6 78.6,293.2 79,293.8 79.3,294.4 79.7,295 80,295.9 80.3,296.7 80.6,297.6 80.8,298.4 81,299.2 81.1,299.9 81.3,300.7 81.5,301.5 81.8,302.1 82.1,302.8 82.5,303.4 82.8,304.1 83.1,304.7 83.4,305.4 83.7,306 84,306.7 84.4,307.3 84.7,308 85,308.6 85.4,309.2 85.9,309.7 86.3,310.2 86.8,310.8 87.2,311.4 87.6,311.9 88.1,312.4 88.5,313 89.2,313.4 89.9,313.9 90.6,314.3 91.3,314.8 92,315.2 92.7,314.8 93.4,314.3 94.1,313.9 94.8,313.4 95.5,313 96,312.5 96.5,312 97,311.5 97.5,311 98,310.5 98.5,310 99,309.5 99.6,309.1 100.3,308.6 100.9,308.2 101.6,307.7 102.2,307.3 102.9,306.8 103.5,306.4 104.2,306.1 105,305.8 105.7,305.5 106.4,305.2 107.2,304.9 107.9,304.6 108.7,304.8 109.5,305 110.4,305.1 111.2,305.3 112,305.2 112.7,304.6 113.5,305.7 114.2,306.9 114.9,306.9 115.6,306.6 116.4,307.2 117.1,307 117.8,306.5 118.5,307.8 119.3,307.5 120,308.6 120.7,309.2 121.4,308.3 122.1,308.8 122.9,309.5 123.6,308.9 124.3,308.6 125,310 125.7,310.6 126.4,310.6 127.1,310.6 127.9,311.2 128.6,311 129.3,311.1 130,310.9 130.7,310.6 131.4,311.4 132.1,310.2 132.8,311.1 133.6,312 134.3,311.9 135,311.8 135.7,311 136.4,311.5 137.1,311.6 137.8,312.1 138.5,311.6 139.2,312.3 139.9,313 140.7,311.3 141.4,312.5 142.1,312.9 142.8,312 143.5,312.3 144.2,313.6 144.9,311.4 145.6,312.7 146.3,311.8 147.1,313.4 147.8,313.8 148.5,312.9 149.2,312 149.9,313.2 150.6,313.2 151.3,313.7 152,313.2 152.7,313.6 153.4,314.1 154.2,313.5 154.9,313.3 155.6,314.6 156.3,312.9 157,314.1 157.7,313.5 158.4,314.5 159.1,313 159.8,315.2 160.5,313.7 161.2,313.1 161.9,313.7 162.6,314.1 163.3,313.2 164,314.3 164.7,314.4 165.4,315.1 166.1,314.3 166.8,314.2 167.5,314.2 168.2,315.5 168.9,316.1 169.6,315.1 170.3,314.5 171,316 171.7,315.1 172.3,314.7 173,314.6 173.7,316.2 174.4,316.4 175.1,316 175.8,315.7 176.5,316 177.2,315.3 177.9,317.1 178.6,315.7 179.3,316.5 180,317 180.7,317.1 181.4,316.3 182.1,316 182.8,316.7 183.5,315.7 184.2,317.5 184.9,316.4 185.6,317.7 186.3,316.4 187,316.7 187.7,316.5 188.4,316.9 189.1,316.4 189.8,316 190.5,317.8 191.2,316.8 191.9,316.8 192.6,317 193.3,317.5 194,317.4 194.7,318 195.4,318.1 196.1,317.4 196.8,318.8 197.5,318.7 198.2,316.9 198.9,318.8 199.6,319 200.3,318.8 201,317.3 201.7,319 202.3,318.6 203,317.2 203.7,317.2 204.4,319.5 205.1,318.9 205.8,318 206.5,317.7 207.2,317.8 207.9,318.1 208.6,319.5 209.3,318.5 210,318.1 210.7,319.9 211.4,319.7 212.1,318.3 212.8,320.1 213.5,319.5 214.2,319.9 214.9,319.7 215.6,320.3 216.3,320.1 217,320.3 217.7,318.8 218.4,320 219.1,319.6 219.9,320.2 220.6,319.5 221.3,320.6 222,319.8 222.7,319.1 223.4,319.1 224.1,318.9 224.9,319.7 225.6,318.7 226.3,319.7 227,319 227.7,319.8 228.4,319.9 229.1,320 229.9,320.8 230.6,318.8 231.3,320.8 232,319.9" fill="none" stroke="#111" stroke-width="1.2" stroke-linejoin="round"/>
<line x1="83.7" y1="279" x2="83.7" y2="297" stroke="#222" stroke-width="1"/>
<polyline points="92.8,297 93.3,280.8 93.8,296" fill="none" stroke="#3f8a3f" stroke-width="1" stroke-linejoin="round"/>
<polyline points="94.7,296 94.7,295.3 94.8,294.6 94.8,293.9 94.8,293.2 94.9,292.5 94.9,291.8 94.9,291 95,290.3 95,289.6 95,288.9 95.1,288.2 95.1,287.5 95.2,288.2 95.2,288.9 95.3,289.7 95.3,290.4 95.4,291.1 95.4,291.8 95.5,292.6 95.5,293.3 95.6,294 95.7,293.3 95.8,292.6 95.9,291.9 96,291.1 96.1,290.4 96.2,289.7 96.3,289 96.4,288.3 96.7,289 96.9,289.7 97.2,290.4 97.4,291.1 97.7,291.9 98,292.6 98.2,293.3 98.5,294 98.7,294.7 99,295.4 99.2,296.1 99.4,296.8 99.6,297.4 99.8,298.1 100,298.8 100.2,299.5 100.4,300.1 100.6,300.8 100.8,301.5 101.1,302.3 101.3,303 101.6,303.8 101.8,304.5 102.1,305.3 102.3,306 102.6,306.8 102.8,307.5 103.1,308.2 103.3,308.9 103.6,309.6 103.8,310.2 104.1,310.9 104.3,311.6 104.6,312.3 104.8,313 105,313.7 105.2,314.5 105.4,315.2 105.7,315.9 105.9,316.7 106.1,317.4 106.2,318.1 106.4,318.8 106.5,319.5 106.6,320.2 106.7,320.9 106.9,321.5 107,322.2 107.1,322.9 107.2,323.6 107.4,324.3 107.5,325 107.7,325.7 107.9,326.3 108.2,327 108.4,327.7 108.6,328.3 108.8,329 109.1,329.7 109.3,330.3 109.5,331 109.7,331.7 109.9,332.3 110.2,333 110.4,333.7 110.6,334.3 110.8,335 111.1,335.7 111.3,336.3 111.5,337 111.8,337.6 112.2,338.4 112.5,339.2 112.8,340.1 113.1,339.9 113.5,340.6 113.8,342.3 114.1,341.3 114.4,342.9 114.8,343.6 115.1,343.1 115.4,344.8 115.7,345.5 116.1,346.6 116.4,346.2 116.7,348 117,347.8 117.4,348.3 117.7,349.7 118.1,348.8 118.5,350.6 118.8,351 119.2,351.1 119.6,352.6 120,352.3 120.4,353.1 120.8,353.8 121.1,354.8 121.5,354.4 121.9,355.4 122.3,356 122.7,356.8 123,357.9 123.4,357.5 123.8,359.1 124.3,358.8 124.8,359.5 125.3,359.6 125.8,360.6 126.4,361.9 126.9,361.8 127.4,362.6 127.9,362.3 128.4,362.8 128.9,363.2 129.4,364.3 129.9,364.9 130.4,365.7 131,364.8 131.5,366.6 132,367.4 132.5,367.3 133,366.9 133.6,367.8 134.1,367.7 134.7,368.4 135.3,370.1 135.8,370 136.4,370.5 136.9,371.2 137.5,371.8 138.1,371.7 138.6,372.1 139.2,372.6 139.8,373.1 140.3,373.4 140.9,373.9 141.5,373.5 142,374.8 142.6,374.8 143.1,375.8 143.7,375 144.3,375.6 144.8,375.7 145.4,377.5 146,378.1 146.7,377.9 147.3,377.7 148,378.8 148.6,379.1 149.2,379 149.9,378.8 150.5,379.2 151.2,379.7 151.8,379.8 152.5,380.4 153.1,381.1 153.7,381.9 154.4,380.6 155,381.9 155.7,381.2 156.3,381.7 157,383.3 157.6,383.2 158.2,384.1 158.9,383.6 159.5,383.1 160.2,384.1 160.8,384.8 161.5,385.6 162.2,385.9 162.9,385.2 163.6,385.3 164.3,384.9 164.9,386.1 165.6,385.5 166.3,385.6 167,385.6 167.7,385.8 168.4,387.2 169.1,386.4 169.8,388.2 170.5,386.8 171.2,388.4 171.9,387.3 172.5,387.3 173.2,388.8 173.9,388.1 174.6,389.2 175.3,388.4 176,388.4 176.7,389.8 177.4,389.8 178.1,390.1 178.9,390 179.6,388.9 180.3,390 181,390.2 181.7,389.9 182.4,390.8 183.2,389.7 183.9,391.1 184.6,390.7 185.3,389.6 186,389.7 186.7,390.9 187.4,391.3 188.2,390.1 188.9,390.6 189.6,391.4 190.3,390.5 191,391.9 191.7,391.3 192.5,390.6 193.2,391.3 193.9,391.7 194.6,391.6 195.3,392.1 196,391.2 196.7,392.4 197.4,391.7 198.1,392.2 198.8,392.2 199.6,391.9 200.3,391.9 201,392.7 201.7,393 202.4,392.8 203.1,392.4 203.8,392 204.5,391.6 205.2,393.3 205.9,392.9 206.6,393.1 207.3,392.3 208,392.8 208.8,393.6 209.5,393.3 210.2,393 210.9,392.5 211.6,392.8 212.3,393.6 213,392.8 213.7,393.4 214.4,393.2 215.1,393.8 215.8,393.6 216.5,392.7 217.2,392.2 217.9,392.7 218.6,393 219.3,393.4 220,393.8 220.8,393.9 221.5,392.4 222.2,393.9 222.9,393.9 223.6,394 224.3,393.5 225,393 225.7,394 226.4,394 227.1,393.8 227.8,394.2 228.5,393.2" fill="none" stroke="#2f552f" stroke-width="1.2" stroke-linejoin="round"/>
<text x="139.5" y="308.6" font-size="8.7" fill="#262626" text-anchor="start" font-weight="normal" font-family="Liberation Sans, sans-serif" >100nM NPP2+80uM Ap3A</text>
<text x="136" y="336.1" font-size="8.7" fill="#7e3446" text-anchor="start" font-weight="normal" font-family="Liberation Sans, sans-serif" >200nM NPP2+80uM Ap3A</text>
<text x="51.2" y="324.9" font-size="8.7" fill="#363688" text-anchor="start" font-weight="normal" font-family="Liberation Sans, sans-serif" >80uM Ap3A</text>
<text x="133.3" y="403.6" font-size="8.7" fill="#4a7050" text-anchor="start" font-weight="normal" font-family="Liberation Sans, sans-serif" >50nM NPP4+80uM Ap3A</text>
<text x="288.3" y="268.1" font-size="17" fill="#0a0a0a" text-anchor="start" font-weight="bold" font-family="Liberation Sans, sans-serif" >D</text>
<line x1="334.9" y1="276.6" x2="334.9" y2="473.7" stroke="#000" stroke-width="1.5" stroke-opacity="0.8"/>
<line x1="370.2" y1="276.6" x2="370.2" y2="473.7" stroke="#000" stroke-width="1.5" stroke-opacity="0.8"/>
<line x1="405.6" y1="276.6" x2="405.6" y2="473.7" stroke="#000" stroke-width="1.5" stroke-opacity="0.8"/>
<line x1="440.9" y1="276.6" x2="440.9" y2="473.7" stroke="#000" stroke-width="1.5" stroke-opacity="0.8"/>
<line x1="476.2" y1="276.6" x2="476.2" y2="473.7" stroke="#000" stroke-width="1.5" stroke-opacity="0.8"/>
<line x1="299.5" y1="296.4" x2="511.6" y2="296.4" stroke="#000" stroke-width="1.5" stroke-opacity="0.8"/>
<line x1="299.5" y1="312.3" x2="511.6" y2="312.3" stroke="#000" stroke-width="1.5" stroke-opacity="0.8"/>
<line x1="299.5" y1="328.1" x2="511.6" y2="328.1" stroke="#000" stroke-width="1.5" stroke-opacity="0.8"/>
<line x1="299.5" y1="344" x2="511.6" y2="344" stroke="#000" stroke-width="1.5" stroke-opacity="0.8"/>
<line x1="299.5" y1="359.8" x2="511.6" y2="359.8" stroke="#000" stroke-width="1.5" stroke-opacity="0.8"/>
<line x1="299.5" y1="375.7" x2="511.6" y2="375.7" stroke="#000" stroke-width="1.5" stroke-opacity="0.8"/>
<line x1="299.5" y1="391.6" x2="511.6" y2="391.6" stroke="#000" stroke-width="1.5" stroke-opacity="0.8"/>
<line x1="299.5" y1="407.4" x2="511.6" y2="407.4" stroke="#000" stroke-width="1.5" stroke-opacity="0.8"/>
<line x1="299.5" y1="423.3" x2="511.6" y2="423.3" stroke="#000" stroke-width="1.5" stroke-opacity="0.8"/>
<line x1="299.5" y1="439.1" x2="511.6" y2="439.1" stroke="#000" stroke-width="1.5" stroke-opacity="0.8"/>
<line x1="299.5" y1="455" x2="511.6" y2="455" stroke="#000" stroke-width="1.5" stroke-opacity="0.8"/>
<rect x="299.5" y="276.6" width="212.1" height="197.1" fill="none" stroke="#000" stroke-opacity="0.68" stroke-width="1.25"/>
<text x="295.9" y="302.3" font-size="9" fill="#1a1a1a" text-anchor="end" font-weight="normal" font-family="Liberation Sans, sans-serif" >0</text>
<text x="295.9" y="317.9" font-size="9" fill="#1a1a1a" text-anchor="end" font-weight="normal" font-family="Liberation Sans, sans-serif" >10</text>
<text x="295.9" y="333.4" font-size="9" fill="#1a1a1a" text-anchor="end" font-weight="normal" font-family="Liberation Sans, sans-serif" >20</text>
<text x="295.9" y="349" font-size="9" fill="#1a1a1a" text-anchor="end" font-weight="normal" font-family="Liberation Sans, sans-serif" >30</text>
<text x="295.9" y="364.5" font-size="9" fill="#1a1a1a" text-anchor="end" font-weight="normal" font-family="Liberation Sans, sans-serif" >40</text>
<text x="295.9" y="380.1" font-size="9" fill="#1a1a1a" text-anchor="end" font-weight="normal" font-family="Liberation Sans, sans-serif" >50</text>
<text x="295.9" y="395.7" font-size="9" fill="#1a1a1a" text-anchor="end" font-weight="normal" font-family="Liberation Sans, sans-serif" >60</text>
<text x="295.9" y="411.2" font-size="9" fill="#1a1a1a" text-anchor="end" font-weight="normal" font-family="Liberation Sans, sans-serif" >70</text>
<text x="295.9" y="426.8" font-size="9" fill="#1a1a1a" text-anchor="end" font-weight="normal" font-family="Liberation Sans, sans-serif" >80</text>
<text x="295.9" y="442.3" font-size="9" fill="#1a1a1a" text-anchor="end" font-weight="normal" font-family="Liberation Sans, sans-serif" >90</text>
<text x="295.9" y="457.9" font-size="9" fill="#1a1a1a" text-anchor="end" font-weight="normal" font-family="Liberation Sans, sans-serif" >100</text>
<text x="299.5" y="484" font-size="9" fill="#1a1a1a" text-anchor="middle" font-weight="normal" font-family="Liberation Sans, sans-serif" >0</text>
<text x="334.9" y="484" font-size="9" fill="#1a1a1a" text-anchor="middle" font-weight="normal" font-family="Liberation Sans, sans-serif" >2</text>
<text x="370.2" y="484" font-size="9" fill="#1a1a1a" text-anchor="middle" font-weight="normal" font-family="Liberation Sans, sans-serif" >4</text>
<text x="405.6" y="484" font-size="9" fill="#1a1a1a" text-anchor="middle" font-weight="normal" font-family="Liberation Sans, sans-serif" >6</text>
<text x="440.9" y="484" font-size="9" fill="#1a1a1a" text-anchor="middle" font-weight="normal" font-family="Liberation Sans, sans-serif" >8</text>
<text x="476.2" y="484" font-size="9" fill="#1a1a1a" text-anchor="middle" font-weight="normal" font-family="Liberation Sans, sans-serif" >10</text>
<text x="383.8" y="494.9" font-size="10.1" fill="#111" text-anchor="start" font-weight="bold" font-family="Liberation Sans, sans-serif" >Time (min)</text>
<text x="0" y="0" font-size="10.7" font-weight="bold" fill="#111" text-anchor="middle" font-family="Liberation Sans, sans-serif" transform="translate(279,379) rotate(-90)">Percent</text>
<rect x="298.8" y="296" width="3.8" height="159" fill="#8080a8"/>
<rect x="299.4" y="296" width="1.6" height="159" fill="#66669a"/>
<rect x="302.5" y="296" width="1.5" height="159" fill="#a8a898"/>
<polyline points="303,455 334.6,455" fill="none" stroke="#a9c255" stroke-width="1.3" stroke-linejoin="round"/>
<polyline points="334.8,454.5 339.6,440.9 344.4,431.3 349.2,423.3 354,416.9 362,408.8 370,402.4 378,398.4 386,395.2 397.3,392 410,390.4 421.3,390 439.6,391.3 458,395.5 476,401.5 500,408" fill="none" stroke="#a9c255" stroke-width="1.0" stroke-linejoin="round"/>
<polyline points="312.6,455 312.6,426.8 330,430.5 346,433.7 362,436.1 378,438.5 394.1,440.1 410,441.4 439.6,444.5 470,447.5 501.5,449.8" fill="none" stroke="#5068b8" stroke-width="1.0" stroke-linejoin="round"/>
<polyline points="322.6,455 322.6,418.2 330,421.7 346,425.7 362,428.9 378,432.1 394.1,434.5 410,436.4 439.6,440.5 470,443.5 501.5,446.2" fill="none" stroke="#e08a50" stroke-width="1.0" stroke-linejoin="round"/>
<polyline points="317.3,455 317.3,414.6 331.6,418.5 338,420 342.8,415.3 347.6,404 352.4,392.8 357.2,384.8 362,380.8 368.5,380 378,383.2 387.7,387.2 397.3,391.2 410,395.5 439.6,405 476,413.3 500,417.7" fill="none" stroke="#333" stroke-width="0.9" stroke-linejoin="round"/>
<line x1="309.6" y1="451" x2="309.6" y2="458" stroke="#4a6ab0" stroke-width="1.2"/>
<line x1="314" y1="451" x2="314" y2="458" stroke="#3a3a6a" stroke-width="1.2"/>
<line x1="319.3" y1="451" x2="319.3" y2="458" stroke="#e07a3a" stroke-width="1.2"/>
<line x1="331.5" y1="451" x2="331.5" y2="458" stroke="#7aa04a" stroke-width="1.2"/>
<polyline points="302.2,299.7 302.4,299 302.6,298.1 302.8,296.6 303,296 304,295.5 305,294.3 306.1,294.6 307.1,294.6 308.2,294.5 309.2,294.3 310.3,294.3 311.4,294.7 312.4,294.7 313.5,294.5 314.6,294.2 315.6,294.7 316.7,294.7 317.7,294.3 318.8,294.6" fill="none" stroke="#111" stroke-width="2.0" stroke-linejoin="round"/>
<polyline points="318.8,294.5 318.9,295.1 319.1,295.7 319.2,296.3 319.4,296.9 319.5,297.5 319.6,298.1 319.8,298.7 319.9,299.2 320,299.8 320.2,300.4 320.3,301 320.4,301.6 320.6,302.2 320.7,302.8 320.9,303.4 321,304 321.1,304.6 321.2,305.2 321.2,305.8 321.3,306.5 321.4,307.1 321.5,307.7 321.5,308.3 321.6,308.9 321.7,309.5 321.8,310.2 321.8,310.8 321.9,311.4 322,312 322.1,312.6 322.2,313.2 322.2,313.8 322.3,314.5 322.4,315.1 322.5,315.7 322.5,316.3 322.6,316.9 322.7,317.5 322.8,318.2 322.8,318.8 322.9,319.4 323,320 323.2,320.6 323.3,321.2 323.5,321.8 323.6,322.5 323.8,323.1 323.9,323.7 324.1,324.3 324.2,324.9 324.4,325.5 324.5,326.2 324.7,326.8 324.8,327.4 325,328 325.2,328.6 325.3,329.2 325.5,329.8 325.6,330.5 325.8,331.1 325.9,331.7 326.1,332.3 326.2,332.9 326.4,333.5 326.5,334.2 326.7,334.8 326.8,335.4 327,336 327.2,336.6 327.4,337.2 327.5,337.8 327.7,338.4 327.9,338.9 328.1,339.5 328.2,340.1 328.4,340.7 328.6,341.3 328.8,341.9 328.9,342.5 329.1,343.1 329.3,343.6 329.5,344.2 329.6,344.8 329.8,345.4 330,346 330.2,346.6 330.4,347.1 330.6,347.7 330.9,348.3 331.1,348.9 331.3,349.4 331.5,350 331.7,350.6 331.9,351.1 332.1,351.7 332.4,352.3 332.6,352.9 332.8,353.4 333,354 333.2,354.6 333.4,355.2 333.6,355.8 333.8,356.4 334,357 334.2,357.6 334.4,358.2 334.6,358.8 334.8,359.4 335,360 335.3,360.6 335.6,361.1 335.9,361.7 336.1,362.3 336.4,362.9 336.7,363.4 337,364 337.3,364.6 337.6,365.1 337.9,365.7 338.1,366.3 338.4,366.9 338.7,367.4 339,368 339.3,368.5 339.7,369 340,369.5 340.3,370 340.7,370.5 341,371 341.3,371.5 341.7,372 342,372.5 342.3,373 342.7,373.5 343,374 343.4,374.5 343.8,375 344.1,375.5 344.5,376 344.9,376.5 345.3,378.7 345.7,379.2 346.1,378.1 346.5,378.4 346.8,379.4 347.2,378.1 347.6,378.6 347.9,379.2 348.2,382 348.4,381.1 348.7,382.5 349,382.4 349.3,383.5 349.6,382.4 349.9,382.5 350.1,387.3 350.4,385.1 350.7,384.5 351,387.4 351.3,388.6 351.6,386.4 351.8,388.9 352.1,388.4 352.4,389.7 352.7,388 353,388.6 353.4,393.4 353.7,393.3 354,392.2 354.3,393.1 354.6,392.3 355,395.1 355.3,394.1 355.6,396.9 355.9,396.6 356.2,397.4 356.6,398.6 356.9,396 357.2,395.6 357.6,396.7 358.1,397.1 358.5,397.1 358.9,397.4 359.4,400 359.8,401.8 360.3,400.5 360.7,403.1 361.1,403.3 361.6,400 362,402.8 362.5,402.3 363,401.5 363.5,405.5 364,402.8 364.5,404.5 365,405.2 365.5,407 366,406.1 366.5,405.3 367,405.9 367.5,405 368,408.9 368.5,409.4 369.1,406.3 369.7,405.8 370.2,407 370.8,407.7 371.4,410.4 372,410.7 372.6,410.7 373.2,407.5 373.7,411.1 374.3,411 374.9,411 375.5,412.8 376.1,408.9 376.6,409.5 377.2,412.4 377.8,413.5 378.4,412.5 379,411.1 379.6,412.6 380.1,413.6 380.7,410.9 381.3,412.1 381.9,412 382.5,411.5 383.1,413.2 383.8,411.9 384.4,412.4 385,412.1 385.6,414.5 386.2,411.7 386.8,415 387.5,412.8 388.1,412.2 388.7,416.3 389.3,413.3 389.9,416.5 390.5,416.4 391.1,416.6 391.8,413.4 392.4,414.9 393,413.5 393.6,417.2 394.2,417 394.8,416.2 395.5,415.5 396.1,415.1 396.7,417.4 397.3,416 397.9,416.8 398.5,414.9 399.1,415.4 399.8,414.9 400.4,418 401,417.4 401.6,415.8 402.2,419.2 402.8,416.7 403.5,417.6 404.1,416.6 404.7,417.3 405.3,420 405.9,417.8 406.5,417.1 407.1,418.5 407.8,417.8 408.4,420.4 409,416.9 409.6,420.7 410.2,416.7 410.8,420.4 411.5,419.4 412.1,417.4 412.7,418.6 413.3,417.8 413.9,417.7 414.5,417.4 415.1,418.2 415.8,420.9 416.4,421 417,420.7 417.6,417 418.2,417.9 418.8,420.6 419.5,416.9 420.1,419.9 420.7,418 421.3,421 421.9,416.8 422.5,420.3 423.2,418.3 423.8,417.4 424.4,416.8 425,420.5 425.6,419.1 426.2,417.7 426.8,418.8 427.4,420.9 428.1,417.8 428.7,419.4 429.3,417.5 429.9,417.7 430.5,420.3 431.1,420.1 431.7,417.8 432.3,417.3 432.9,417.4 433.6,419.7 434.2,419.2 434.8,418.3 435.4,418 436,419.8 436.6,420.2 437.2,420.7 437.8,419.7 438.4,418.1 439.1,417.5 439.7,420.4 440.3,419 440.9,420.4 441.5,417.5 442.1,420.8 442.7,418.8 443.3,421 443.9,421.1 444.6,419.5 445.2,417.4 445.8,421.4 446.4,419.5 447,421.2 447.6,418.6 448.2,418.3 448.8,421.1 449.4,419.1 450,418.2 450.6,419.1 451.2,420.1 451.8,417.6 452.4,419.8 453,419.5 453.6,419.9 454.2,418.1 454.9,420.8 455.5,421.2 456.1,421.5 456.7,419.1 457.3,420.8 457.9,419.4 458.5,421 459.1,418 459.7,421.6 460.3,422 460.9,420 461.5,420.1 462.1,420.2 462.7,420.2 463.3,417.9 463.9,422.1 464.5,418.9 465.1,418.7 465.7,418.4 466.3,419 466.9,421.5 467.5,418.1 468.1,418.4 468.8,421.1 469.4,418.9 470,418.1 470.6,420.7 471.2,420.6 471.8,420.4 472.4,421.2 473,418.6 473.6,422 474.2,421.3 474.8,418.4 475.4,418.7 476,420.4 476.6,420.4 477.2,419.4 477.8,418.7 478.4,419.9 479,418.7 479.6,420.7 480.2,421.8 480.8,418.7 481.4,420.5 482,421.3 482.6,418.7 483.2,421.6 483.8,422 484.4,419.6 485,419.7 485.6,421.5 486.2,420.1 486.8,419.5 487.4,421.9 488,421.2 488.6,419.2 489.2,418.8 489.8,419.2 490.4,419.6 491,422 491.6,421.2 492.2,421.6 492.8,421.2 493.4,421.3 494,417.8 494.6,419.8 495.2,421.7 495.8,421.6 496.4,418.5 497,419.3 497.6,420.2 498.2,419 498.8,419.7 499.4,417.6 500,419.2" fill="none" stroke="#111" stroke-width="1.4" stroke-linejoin="round"/>
<polyline points="304,295.5 311,295 311.5,277.5 313.8,277.5 314.2,294 316.5,297 319.5,306 322.8,315.5 325.5,307 328.6,297 331.4,292 336,291.8 370,292.3 430,294 502,298" fill="none" stroke="#3a3aa0" stroke-width="1.1" stroke-linejoin="round"/>
<polyline points="314.7,293.6 316.5,278.6 318.8,293.6" fill="none" stroke="#111" stroke-width="1.0" stroke-linejoin="round"/>
<polyline points="320.5,294.8 322.2,277.5 324.5,277.5 326.8,293.6" fill="none" stroke="#7a2a3a" stroke-width="1.0" stroke-linejoin="round"/>
<polyline points="327.4,293.6 327.8,294.7 328.3,295.7 328.7,296.8 329.1,297.9 329.6,298.9 330,300 330.4,301 330.7,301.9 331.1,302.9 331.4,303.8 331.8,304.8 332.1,305.7 332.5,306.7 332.8,307.6 333.2,308.6 334,307.6 334.7,306.5 335.5,305.5 336.6,305.4 337.8,305.4 338.9,305.3 340,304.7 341,304.8 342,305.7 343,305.5 344,305.6 345,305.3 346,305.5 347,305.5 348,305.5 349,304.7 350,305.3 351,304.9 352,305.3 353,304.9 354,305.1 355,305.5 356,305.2 357,304.8 358,305.1 359,305 360,305.5 361,304.8 362,304.9 363,305.2 364,304.7 365,305.1 366,305.5 367,305 368,304.8 369,305 370,305 371,304.6 372,304.6 373,304.6 374,304.7 375,304.8 376,304.7 377,304.6 378,304.4 379,304.9 380,305.1 381,304.9 382,304.8 383,304.9 384,304.4 385,304.9 386,304.6 387,304.7 388,304.7 389,304.6 390,304.4 391,304.3 392,304.3 393,304.5 394,304.4 395,304.6 396,304 397,304.3 398,304.8 399,304.1 400,304.4 401,304.3 402,304.1 403,304.8 404,304.1 405,304.5 406,303.9 407,303.8 408,304.6 409,304.1 410,303.7 411,304 412,304 413,304.3 414,303.7 415,303.8 416,304.5 417,304.2 418,303.6 419,303.8 420,303.8 421,304.1 422,304 423,304.2 424,304.2 425,303.8 426,304 427,304 428,304 429,303.7 430,304 431,303.9 432,304.1 433,303.3 434,304 435,303.1 436,303.9 437,303.7 438,303.6 439,304 440,303.6 441,303.4 442,303.8 443,303.8 444,303.5 445,303.3 446,303.3 447,303.3 448,303.6 449,303.1 450,303.2 451,303.4 452,303.2 453,303.2 454,303.6 455,303.7 456,303.4 457,303.3 458,303.1 459,303.2 460,303.1 461,303.5 462,303.5 463,303.1 464,303.9 465,303.3 466,303.9 467,303.9 468,304 469,303.3 470,303.5 471,304 472,303.1 473,303.2 474,303.7 475,303.6 476,304.1 477,303.9 478,303.7 479,304.2 480,303.7 481,303.7 482,303.9 483,303.6 484,303.6 485,303.9 486,303.6 487,304.2 488,304 489,303.9 490,303.4 491,303.7 492,303.8 493,303.9 494,304 495,304.3 496,304.4 497,303.9 498,303.9 499,304.1 500,304.5 501,303.8 502,304" fill="none" stroke="#1a1a1a" stroke-width="1.5" stroke-linejoin="round"/>
<polyline points="333.2,308.6 335,305 337.2,300.5 340.7,291.3 344.1,284.4 348.7,281.5 355.7,280.3 390,280.2 430,282 502,286.7" fill="none" stroke="#2a1018" stroke-width="1.0" stroke-linejoin="round"/>
<polyline points="470,285 502,286.9" fill="none" stroke="#8a2a3a" stroke-width="1.0" stroke-linejoin="round"/>
<text x="355.8" y="291.6" font-size="8.7" fill="#7e3446" text-anchor="start" font-weight="normal" font-family="Liberation Sans, sans-serif" >100 nM T70A NPP4 + 40uM AP3A</text>
<text x="372.7" y="303.6" font-size="8.7" fill="#363688" text-anchor="start" font-weight="normal" font-family="Liberation Sans, sans-serif" >Buffer + 40uM AP3A</text>
<text x="374" y="313.4" font-size="8.7" fill="#6aa06a" text-anchor="start" font-weight="normal" font-family="Liberation Sans, sans-serif" >100 nM NPP1 + 40uM AP3A</text>
<text x="340.2" y="357.9" font-size="8.7" fill="#262626" text-anchor="start" font-weight="normal" font-family="Liberation Sans, sans-serif" >100nM NPP4 + 40uM AP3A</text>
</svg>
</body></html>
